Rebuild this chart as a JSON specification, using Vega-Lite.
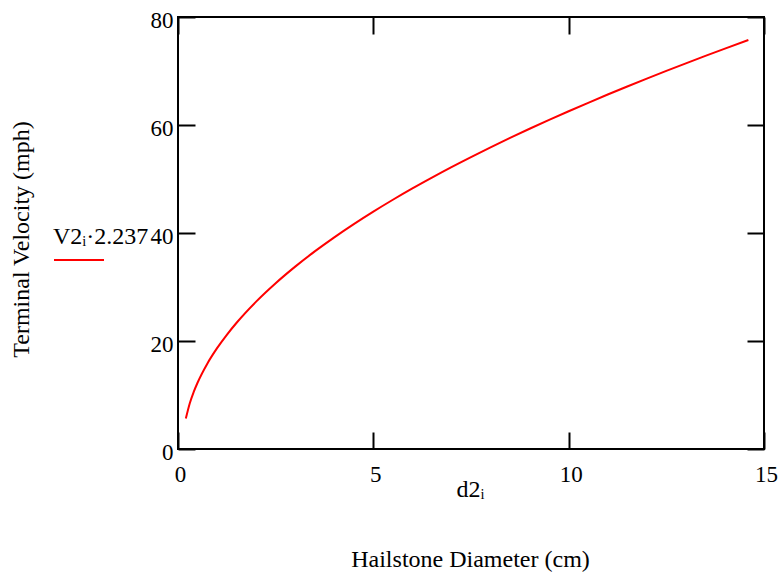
{
  "$schema": "https://vega.github.io/schema/vega-lite/v6.json",
  "width": 586,
  "height": 432,
  "autosize": "none",
  "padding": {"left": 178, "top": 17, "right": 18, "bottom": 128},
  "background": "white",
  "config": {
    "font": "Liberation Serif",
    "view": {"stroke": "black", "strokeWidth": 2},
    "axis": {"grid": false, "domain": false, "tickColor": "black", "tickWidth": 2, "labelColor": "black", "titleColor": "black", "labelFont": "Liberation Serif", "titleFont": "Liberation Serif", "labelFontSize": 23, "titleFontSize": 24, "titleFontWeight": "normal", "labelFlush": false},
    "legend": {"titleFont": "Liberation Serif", "labelFont": "Liberation Serif"}
  },
  "data": {"values": [
    {"d": 0.2, "v": 5.63, "s": "V2"},
    {"d": 0.3, "v": 8.44, "s": "V2"},
    {"d": 0.4, "v": 10.53, "s": "V2"},
    {"d": 0.5, "v": 12.27, "s": "V2"},
    {"d": 0.75, "v": 15.80, "s": "V2"},
    {"d": 1.0, "v": 18.67, "s": "V2"},
    {"d": 1.25, "v": 21.15, "s": "V2"},
    {"d": 1.5, "v": 23.38, "s": "V2"},
    {"d": 2.0, "v": 27.29, "s": "V2"},
    {"d": 2.5, "v": 30.70, "s": "V2"},
    {"d": 3.0, "v": 33.77, "s": "V2"},
    {"d": 3.5, "v": 36.59, "s": "V2"},
    {"d": 4.0, "v": 39.20, "s": "V2"},
    {"d": 4.5, "v": 41.65, "s": "V2"},
    {"d": 5.0, "v": 43.96, "s": "V2"},
    {"d": 5.5, "v": 46.16, "s": "V2"},
    {"d": 6.0, "v": 48.26, "s": "V2"},
    {"d": 6.5, "v": 50.26, "s": "V2"},
    {"d": 7.0, "v": 52.20, "s": "V2"},
    {"d": 7.5, "v": 54.06, "s": "V2"},
    {"d": 8.0, "v": 55.86, "s": "V2"},
    {"d": 8.5, "v": 57.61, "s": "V2"},
    {"d": 9.0, "v": 59.30, "s": "V2"},
    {"d": 9.5, "v": 60.95, "s": "V2"},
    {"d": 10.0, "v": 62.55, "s": "V2"},
    {"d": 10.5, "v": 64.11, "s": "V2"},
    {"d": 11.0, "v": 65.64, "s": "V2"},
    {"d": 11.5, "v": 67.13, "s": "V2"},
    {"d": 12.0, "v": 68.59, "s": "V2"},
    {"d": 12.5, "v": 70.02, "s": "V2"},
    {"d": 13.0, "v": 71.42, "s": "V2"},
    {"d": 13.5, "v": 72.79, "s": "V2"},
    {"d": 14.0, "v": 74.14, "s": "V2"},
    {"d": 14.6, "v": 75.73, "s": "V2"}
  ]},
  "layer": [
    {
      "mark": {"type": "line", "strokeWidth": 2, "interpolate": "monotone"},
      "encoding": {
        "x": {"field": "d", "type": "quantitative", "scale": {"domain": [0, 15], "nice": false, "zero": false},
          "axis": {"orient": "bottom", "values": [0, 5, 10, 15], "tickSize": -17, "labelPadding": 31, "labelOffset": 2, "labelBaseline": "top", "labelFlush": false, "labelFont": "Liberation Serif", "titleFont": "Liberation Serif",
            "title": ["d2ᵢ", "Hailstone Diameter (cm)"], "titleLineHeight": 70, "titleBaseline": "alphabetic", "titleY": 47, "titleX": 292}},
        "y": {"field": "v", "type": "quantitative", "scale": {"domain": [0, 80], "nice": false},
          "axis": {"orient": "left", "values": [0, 20, 40, 60, 80], "tickSize": -17, "labelPadding": 22, "labelOffset": 3, "labelFlush": false, "labelFont": "Liberation Serif", "titleFont": "Liberation Serif",
            "title": "Terminal Velocity (mph)", "titleBaseline": "alphabetic", "titleAngle": 270, "titleX": -150, "titleY": 222, "titleAlign": "center"}},
        "color": {"field": "s", "type": "nominal", "scale": {"range": ["#ff0000"]},
          "legend": {"orient": "none", "legendX": -125, "legendY": 208, "title": "V2ᵢ·2.237", "titleFont": "Liberation Serif", "titleFontSize": 24, "titleFontWeight": "normal", "titleColor": "black", "titlePadding": -15, "symbolType": "stroke", "symbolSize": 2500, "symbolStrokeWidth": 2, "labelExpr": "''", "padding": 0, "symbolOffset": 0}}
      }
    },
    {
      "mark": {"type": "line", "opacity": 0},
      "encoding": {
        "x": {"field": "d", "type": "quantitative", "scale": {"domain": [0, 15], "nice": false, "zero": false},
          "axis": {"orient": "top", "values": [0, 5, 10, 15], "tickSize": -17, "labels": false, "title": null}},
        "y": {"field": "v", "type": "quantitative", "scale": {"domain": [0, 80], "nice": false},
          "axis": {"orient": "right", "values": [0, 20, 40, 60, 80], "tickSize": -17, "labels": false, "title": null}}
      }
    }
  ],
  "resolve": {"scale": {"x": "independent", "y": "independent"}, "axis": {"x": "independent", "y": "independent"}}
}
